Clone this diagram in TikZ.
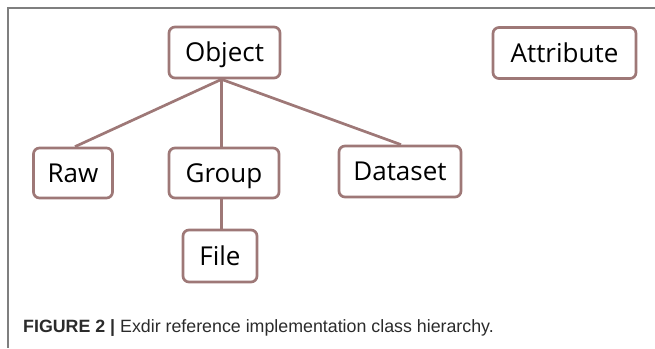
\documentclass[tikz,border=0pt]{standalone}
\usepackage{fontspec}
\newfontfamily\boxfont{Open Sans}
\newfontfamily\capfont{Liberation Sans}
\definecolor{edgec}{HTML}{9E7877}
\definecolor{framec}{HTML}{7F7F7F}
\definecolor{capc}{HTML}{2B2B2B}
\begin{document}
\begin{tikzpicture}[x=1pt,y=-1pt,
  cls/.style={draw=edgec, line width=2.7pt, rounded corners=6pt, fill=white,
    inner sep=0pt, anchor=center, text height=18pt, text depth=0pt,
    font=\boxfont\fontsize{26}{30}\selectfont, text=black},
  conn/.style={draw=edgec, line width=2.7pt}]
\useasboundingbox (0,0) rectangle (655,348);
\draw[framec, line width=1.5pt] (655,8) -- (8,8) -- (8,348);
\node[cls, minimum width=111pt, minimum height=51pt] (obj) at (224.5,52.5) {Object};
\node[cls, minimum width=143pt, minimum height=51pt] (attr) at (564.5,53) {Attribute};
\node[cls, minimum width=79pt, minimum height=50pt] (raw) at (73,173) {Raw};
\node[cls, minimum width=110pt, minimum height=50pt] (grp) at (224,173) {Group};
\node[cls, minimum width=122pt, minimum height=51pt] (ds) at (400,171.5) {Dataset};
\node[cls, minimum width=74pt, minimum height=52pt] (file) at (220,256) {File};
\coordinate (hub) at ([xshift=-3pt]obj.south);
\draw[conn] (hub) -- ([xshift=2pt]raw.north);
\draw[conn] (hub) -- (hub |- grp.north);
\draw[conn] (hub) -- ([xshift=1pt]ds.north);
\draw[conn] (hub |- grp.south) -- (hub |- file.north);
\node[anchor=base west, inner sep=0pt, text=capc, font=\capfont\fontsize{17.8}{20}\selectfont] (cap) at (23,332)
  {\textbf{FIGURE 2 |} Exdir reference implementation class hierarchy.};
\end{tikzpicture}
\end{document}
